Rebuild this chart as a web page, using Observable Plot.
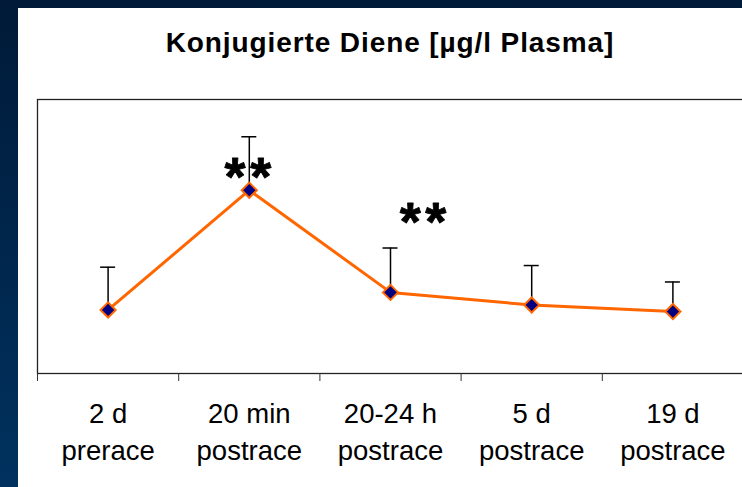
<!DOCTYPE html>
<html>
<head>
<meta charset="utf-8">
<script src="https://cdn.jsdelivr.net/npm/d3@7"></script>
<script src="https://cdn.jsdelivr.net/npm/@observablehq/plot@0.6"></script>
<style>
  html, body { margin: 0; padding: 0; }
  body {
    width: 742px; height: 487px; overflow: hidden; position: relative;
    background: linear-gradient(to bottom, #001a38 0%, #00264c 50%, #00325f 100%);
  }
  #panel {
    position: absolute; left: 18px; top: 8px; width: 800px; height: 520px;
    background: #ffffff; overflow: hidden;
  }
  #title {
    position: absolute; left: 0; top: 21px; width: 744px; text-align: center;
    font-family: "Liberation Sans", Arial, sans-serif; font-weight: bold;
    font-size: 28px; letter-spacing: 0.9px; line-height: 1; color: #000;
  }
  #chart { position: absolute; left: 0; top: 72px; }
</style>
</head>
<body>
<div id="panel">
  <div id="title">Konjugierte Diene [µg/l Plasma]</div>
  <div id="chart"></div>
</div>
<script>
// Data (arbitrary units, y axis is unlabeled)
const categories = ["2 d\nprerace", "20 min\npostrace", "20-24 h\npostrace", "5 d\npostrace", "19 d\npostrace"];
const means = [11.6, 33.45, 14.8, 12.5, 11.3];
const errors = [7.8, 9.75, 8.1, 7.2, 5.4];
// significance annotations ("**")
const starX = [0.99, 2.23];
const starY = [36.9, 28.7];

const data = categories.map((c, i) => ({i, label: c, v: means[i], e: errors[i]}));
const stars = starX.map((x, k) => ({x, y: starY[k]}));
const boundaries = d3.range(categories.length + 1).map(k => k - 0.5);

const starStyle = {x: "x", y: "y", text: () => "*", fontSize: 54, fontWeight: "bold",
  fill: "#000", stroke: "#000", strokeWidth: 0.8, dy: 6.5};

const chart = Plot.plot({
  width: 740,
  height: 407,
  marginLeft: 19,
  marginRight: 15,
  marginTop: 19,
  marginBottom: 114,
  style: {fontFamily: "'Liberation Sans', Arial, sans-serif", color: "#000", background: "transparent"},
  x: {domain: [-0.5, categories.length - 0.5], axis: null},
  y: {domain: [0, 50], axis: null},
  marks: [
    Plot.frame({stroke: "#222", strokeWidth: 1.3}),
    Plot.axisX({ticks: boundaries, tickSize: 8, tickFormat: () => "", stroke: "#333", strokeWidth: 1}),
    Plot.axisX({ticks: d3.range(categories.length), tickSize: 0, tickPadding: 23,
      fontSize: 27.5, lineHeight: 1.36, fill: "#000", tickFormat: i => categories[i]}),
    Plot.line(data, {x: "i", y: "v", stroke: "#ff6600", strokeWidth: 3}),
    Plot.ruleX(data, {x: "i", y1: "v", y2: d => d.v + d.e, stroke: "#000", strokeWidth: 1.5}),
    Plot.ruleY(data, {y: d => d.v + d.e, x1: "i", x2: "i", insetLeft: -7.5, insetRight: -7.5, stroke: "#000", strokeWidth: 1.5}),
    Plot.dot(data, {x: "i", y: "v", symbol: "diamond2", r: 6.8, fill: "#000080", stroke: "#ff6600", strokeWidth: 2}),
    Plot.text(stars, {...starStyle, dx: -12.8}),
    Plot.text(stars, {...starStyle, dx: 12.8})
  ]
});
document.getElementById("chart").appendChild(chart);
</script>
</body>
</html>
